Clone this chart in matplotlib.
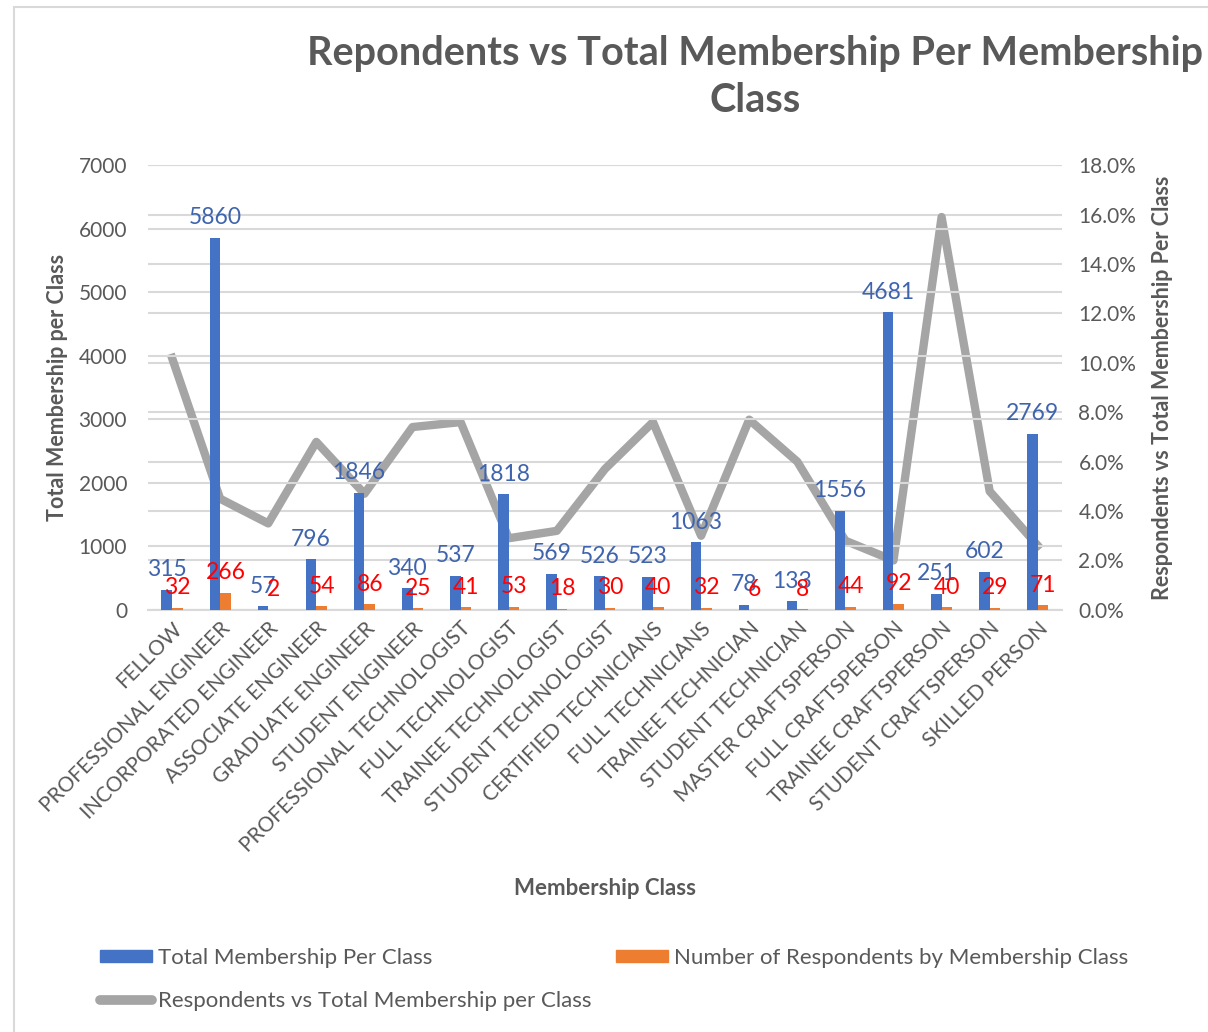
import matplotlib
matplotlib.use("Agg")
import matplotlib.pyplot as plt
import numpy as np
from matplotlib.patches import Rectangle
from matplotlib.lines import Line2D
from matplotlib.patches import Patch
from matplotlib.ticker import FuncFormatter, MultipleLocator

plt.rcParams['font.family'] = ['Lato', 'DejaVu Sans']

# membership classes and counts
classes = ['FELLOW', 'PROFESSIONAL ENGINEER', 'INCORPORATED ENGINEER', 'ASSOCIATE ENGINEER',
           'GRADUATE ENGINEER', 'STUDENT ENGINEER', 'PROFESSIONAL TECHNOLOGIST', 'FULL TECHNOLOGIST',
           'TRAINEE TECHNOLOGIST', 'STUDENT TECHNOLOGIST', 'CERTIFIED TECHNICIANS', 'FULL TECHNICIANS',
           'TRAINEE TECHNICIAN', 'STUDENT TECHNICIAN', 'MASTER CRAFTSPERSON', 'FULL CRAFTSPERSON',
           'TRAINEE CRAFTSPERSON', 'STUDENT CRAFTSPERSON', 'SKILLED PERSON']
total_members = [315, 5860, 57, 796, 1846, 340, 537, 1818, 569, 526, 523, 1063, 78, 133, 1556, 4681, 251, 602, 2769]
respondents = [32, 266, 2, 54, 86, 25, 41, 53, 18, 30, 40, 32, 6, 8, 44, 92, 40, 29, 71]
# respondents as share of total membership
ratio = [0.102, 0.045, 0.035, 0.068, 0.047, 0.074, 0.076, 0.029, 0.032, 0.057,
         0.076, 0.030, 0.077, 0.060, 0.028, 0.020, 0.159, 0.048, 0.026]

BLUE = '#4472C4'
ORANGE = '#ED7D31'
GREY_LINE = '#A5A5A5'
TXT = '#595959'
GRID = '#D9D9D9'

fig = plt.figure(figsize=(12.08, 10.32), dpi=100)
fig.patches.append(Rectangle((0.012, -0.01), 0.99, 1.003, transform=fig.transFigure,
                             fill=False, edgecolor=GRID, linewidth=1.5))

ax = fig.add_axes([0.1225, 0.409, 0.7565, 0.431])
x = np.arange(len(classes))
w = 0.22

ax.bar(x - 0.11, total_members, w, color=BLUE, zorder=3)
ax.bar(x + 0.11, respondents, w, color=ORANGE, zorder=3)

for xi, v in zip(x, total_members):
    ax.annotate(str(v), (xi - 0.11, v), xytext=(0, 7), textcoords='offset points',
                ha='center', va='bottom', fontsize=16.5, color='#3F64AE', zorder=6)
for xi, v in zip(x, respondents):
    ax.annotate(str(v), (xi + 0.11, v), xytext=(0, 7), textcoords='offset points',
                ha='center', va='bottom', fontsize=16.5, color='#FF0000', zorder=6)

ax.set_xlim(-0.5, len(classes) - 0.5)
ax.set_ylim(0, 7000)
ax.yaxis.set_major_locator(MultipleLocator(1000))
ax.grid(axis='y', color=GRID, linewidth=1.5, zorder=0)
ax.set_axisbelow(True)
for s in ['top', 'right', 'left']:
    ax.spines[s].set_visible(False)
ax.spines['bottom'].set_color(GRID)
ax.spines['bottom'].set_linewidth(1.5)
ax.tick_params(axis='both', length=0, colors=TXT, labelsize=15)
ax.tick_params(axis='y', pad=15)
ax.tick_params(axis='x', pad=6)
ax.set_xticks(x)
ax.set_xticklabels(classes, rotation=45, ha='right', rotation_mode='anchor', fontsize=15)
ax.set_ylabel('Total Membership per Class', fontsize=15.5, fontweight='bold', color=TXT, labelpad=8)
ax.set_xlabel('Membership Class', fontsize=16, fontweight='bold', color=TXT, labelpad=16)

ax2 = ax.twinx()
ax2.plot(x, ratio, color=GREY_LINE, linewidth=6, solid_joinstyle='round', zorder=4)
ax2.set_ylim(0, 0.18)
ax2.yaxis.set_major_locator(MultipleLocator(0.02))
ax2.yaxis.set_major_formatter(FuncFormatter(lambda v, p: f'{v * 100:.1f}%'))
ax2.grid(axis='y', color=GRID, linewidth=1.5, zorder=0)
for s in ax2.spines.values():
    s.set_visible(False)
ax2.tick_params(axis='y', length=0, colors=TXT, labelsize=15, pad=12)
ax2.set_ylabel('Respondents vs Total Membership Per Class', fontsize=15.5, fontweight='bold',
               color=TXT, labelpad=11)
ax.set_zorder(ax2.get_zorder() + 1)
ax.patch.set_visible(False)

fig.text(0.625, 0.966, 'Repondents vs Total Membership Per Membership\nClass', ha='center', va='top',
         fontsize=28.5, fontweight='bold', color=TXT, linespacing=1.32)

handles = [Patch(color=BLUE), Line2D([], [], color=GREY_LINE, linewidth=7, solid_capstyle='round'),
           Patch(color=ORANGE)]
labels = ['Total Membership Per Class', 'Respondents vs Total Membership per Class',
          'Number of Respondents by Membership Class']
fig.legend(handles, labels, loc='upper left', bbox_to_anchor=(0.0828, 0.0815), ncol=2,
           frameon=False, fontsize=16, labelcolor=TXT, handlelength=2.35, handleheight=0.5,
           handletextpad=0.27, columnspacing=1.1, labelspacing=1.05,
           borderpad=0, borderaxespad=0)

fig.savefig('out.png', dpi=100)
